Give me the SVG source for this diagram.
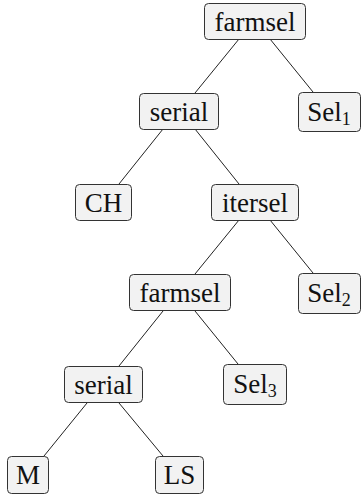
<svg xmlns="http://www.w3.org/2000/svg" width="361" height="497" viewBox="0 0 361 497">
<style>
.box{fill:#f2f2f2;stroke:#333;stroke-width:1}
.lbl{font-family:"Liberation Serif","DejaVu Serif",serif;font-size:27px;fill:#111;text-anchor:middle}
.sub{font-size:18px}
.edge{stroke:#222;stroke-width:1;fill:none}
</style>
<rect width="361" height="497" fill="#fff"/>
<g id="connectors">
<line class="edge" x1="239" y1="39" x2="195" y2="93"/>
<line class="edge" x1="270" y1="39" x2="313" y2="92"/>
<line class="edge" x1="163" y1="129" x2="119" y2="184"/>
<line class="edge" x1="195" y1="129" x2="239" y2="184"/>
<line class="edge" x1="239" y1="220" x2="195" y2="274"/>
<line class="edge" x1="270" y1="220" x2="313" y2="273"/>
<line class="edge" x1="163" y1="311" x2="119" y2="366"/>
<line class="edge" x1="195" y1="311" x2="238" y2="364"/>
<line class="edge" x1="87" y1="403" x2="44" y2="456"/>
<line class="edge" x1="119" y1="403" x2="163" y2="456"/>
</g>
<g id="n-farmsel1"><rect class="box" x="204.5" y="3.5" width="101" height="36" rx="4"/><text class="lbl" x="255" y="31">farmsel</text></g>
<g id="n-serial1"><rect class="box" x="139.5" y="93.5" width="79" height="36" rx="4"/><text class="lbl" x="179" y="121">serial</text></g>
<g id="n-sel1"><rect class="box" x="298.5" y="92.5" width="62" height="39" rx="4"/><text class="lbl" x="329" y="121">Sel<tspan class="sub" dy="4">1</tspan></text></g>
<g id="n-ch"><rect class="box" x="75.5" y="184.5" width="56" height="36" rx="4"/><text class="lbl" x="103.5" y="212">CH</text></g>
<g id="n-itersel"><rect class="box" x="211.5" y="184.5" width="87" height="36" rx="4"/><text class="lbl" x="255" y="212">itersel</text></g>
<g id="n-farmsel2"><rect class="box" x="129.5" y="274.5" width="101" height="36" rx="4"/><text class="lbl" x="180" y="302">farmsel</text></g>
<g id="n-sel2"><rect class="box" x="298.5" y="273.5" width="62" height="40" rx="4"/><text class="lbl" x="329" y="302">Sel<tspan class="sub" dy="4">2</tspan></text></g>
<g id="n-serial2"><rect class="box" x="64.5" y="366.5" width="78" height="36" rx="4"/><text class="lbl" x="103.5" y="394">serial</text></g>
<g id="n-sel3"><rect class="box" x="223.5" y="364.5" width="63" height="40" rx="4"/><text class="lbl" x="255" y="393">Sel<tspan class="sub" dy="4">3</tspan></text></g>
<g id="n-m"><rect class="box" x="7.5" y="456.5" width="41" height="37" rx="4"/><text class="lbl" x="28" y="484">M</text></g>
<g id="n-ls"><rect class="box" x="155.5" y="456.5" width="48" height="37" rx="4"/><text class="lbl" x="179.5" y="484">LS</text></g>
</svg>
